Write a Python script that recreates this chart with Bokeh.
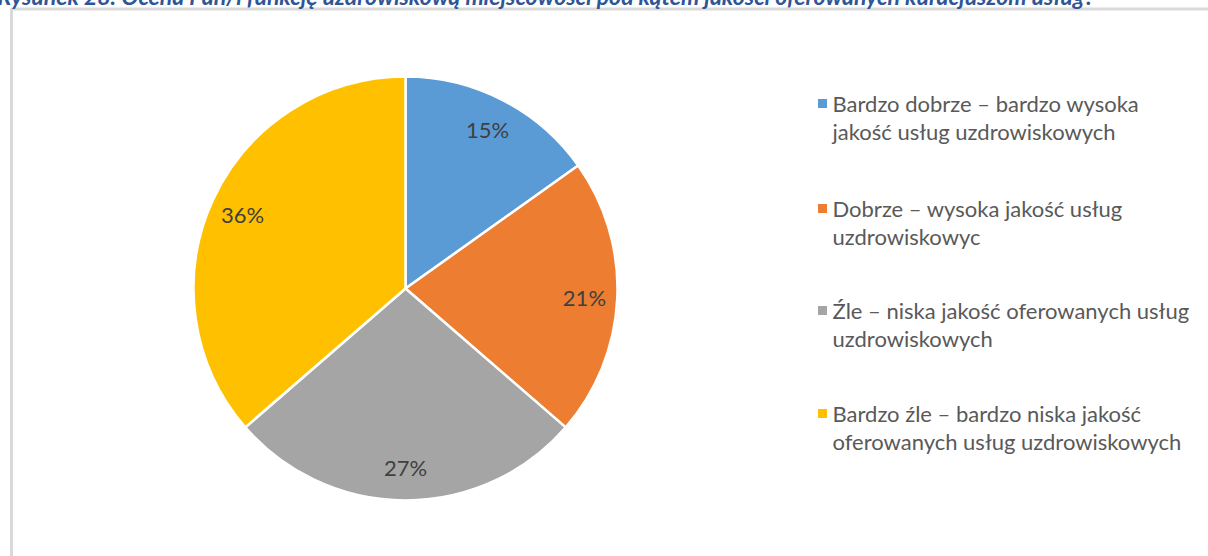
import numpy as np
from bokeh.plotting import figure
from bokeh.models import Range1d, ColumnDataSource
from bokeh.core.properties import value
from bokeh.embed import file_html
from bokeh.resources import INLINE

# ---- data ----
categories = [
    "Bardzo dobrze – bardzo wysoka\njakość usług uzdrowiskowych",
    "Dobrze – wysoka jakość usług\nuzdrowiskowyc",
    "Źle – niska jakość oferowanych usług\nuzdrowiskowych",
    "Bardzo źle – bardzo niska jakość\noferowanych usług uzdrowiskowych",
]
shares = [15, 21, 27, 36]
pct_labels = ["15%", "21%", "27%", "36%"]
colors = ["#5B9BD5", "#ED7D31", "#A5A5A5", "#FFC000"]
title_text = ("Rysunek 28. Ocena Pan/i funkcję uzdrowiskową miejscowości pod kątem "
              "jakości oferowanych kuracjuszom usług?")

W, H = 1208, 556
OFF = 8
FONT = "Lato"

p = figure(width=W + OFF, height=H + OFF, output_backend="svg", toolbar_location=None,
           x_range=Range1d(-OFF, W), y_range=Range1d(0, H + OFF), min_border=0,
           styles={"margin": "-8px"})
p.axis.visible = False
p.xgrid.visible = False
p.ygrid.visible = False
p.outline_line_color = None
p.background_fill_color = "white"

def Y(py):
    return H - py

# chart border (light gray)
p.line(x=[11, 11, W + 5], y=[Y(H + 5), Y(8.5), Y(8.5)], line_color="#D9D9D9", line_width=3)

# title (cut off at top in reference)
p.text(x=[-3], y=[Y(-5)], text=[title_text], text_font=value(FONT), text_font_size="23px",
       text_font_style="bold italic", text_color="#2F5597", text_baseline="alphabetic",
       text_align="left")

# pie
cx, cy, R = 405, Y(288), 212
vals = np.array(shares, dtype=float)
frac = vals / vals.sum()
ends = np.cumsum(frac) * 2 * np.pi
starts = ends - frac * 2 * np.pi
start_ang = np.pi / 2 - starts
end_ang = np.pi / 2 - ends
src = ColumnDataSource(dict(start=start_ang, end=end_ang, color=colors))
p.wedge(x=cx, y=cy, radius=R, start_angle="start", end_angle="end", direction="clock",
        fill_color="color", line_color="white", line_width=2.5, source=src)

mids = (starts + ends) / 2
lr = 0.845 * R
lx = cx + lr * np.sin(mids)
ly = cy + lr * np.cos(mids)
p.text(x=lx, y=ly, text=pct_labels, text_font=value(FONT), text_font_size="22px",
       text_color="#404040", text_align="center", text_baseline="middle")

# legend
leg_y = np.array([103, 208, 310, 413], dtype=float)
line1 = [c.split("\n")[0] for c in categories]
line2 = [c.split("\n")[1] for c in categories]
p.scatter(x=[822] * 4, y=Y(leg_y), marker="square", size=9,
          fill_color=colors, line_color=None)
p.text(x=[832] * 4, y=Y(leg_y), text=line1, text_font=value(FONT), text_font_size="22px",
       text_color="#595959", text_align="left", text_baseline="middle")
p.text(x=[832] * 4, y=Y(leg_y + 28), text=line2, text_font=value(FONT), text_font_size="22px",
       text_color="#595959", text_align="left", text_baseline="middle")

open("out.html", "w").write(file_html(p, INLINE))
